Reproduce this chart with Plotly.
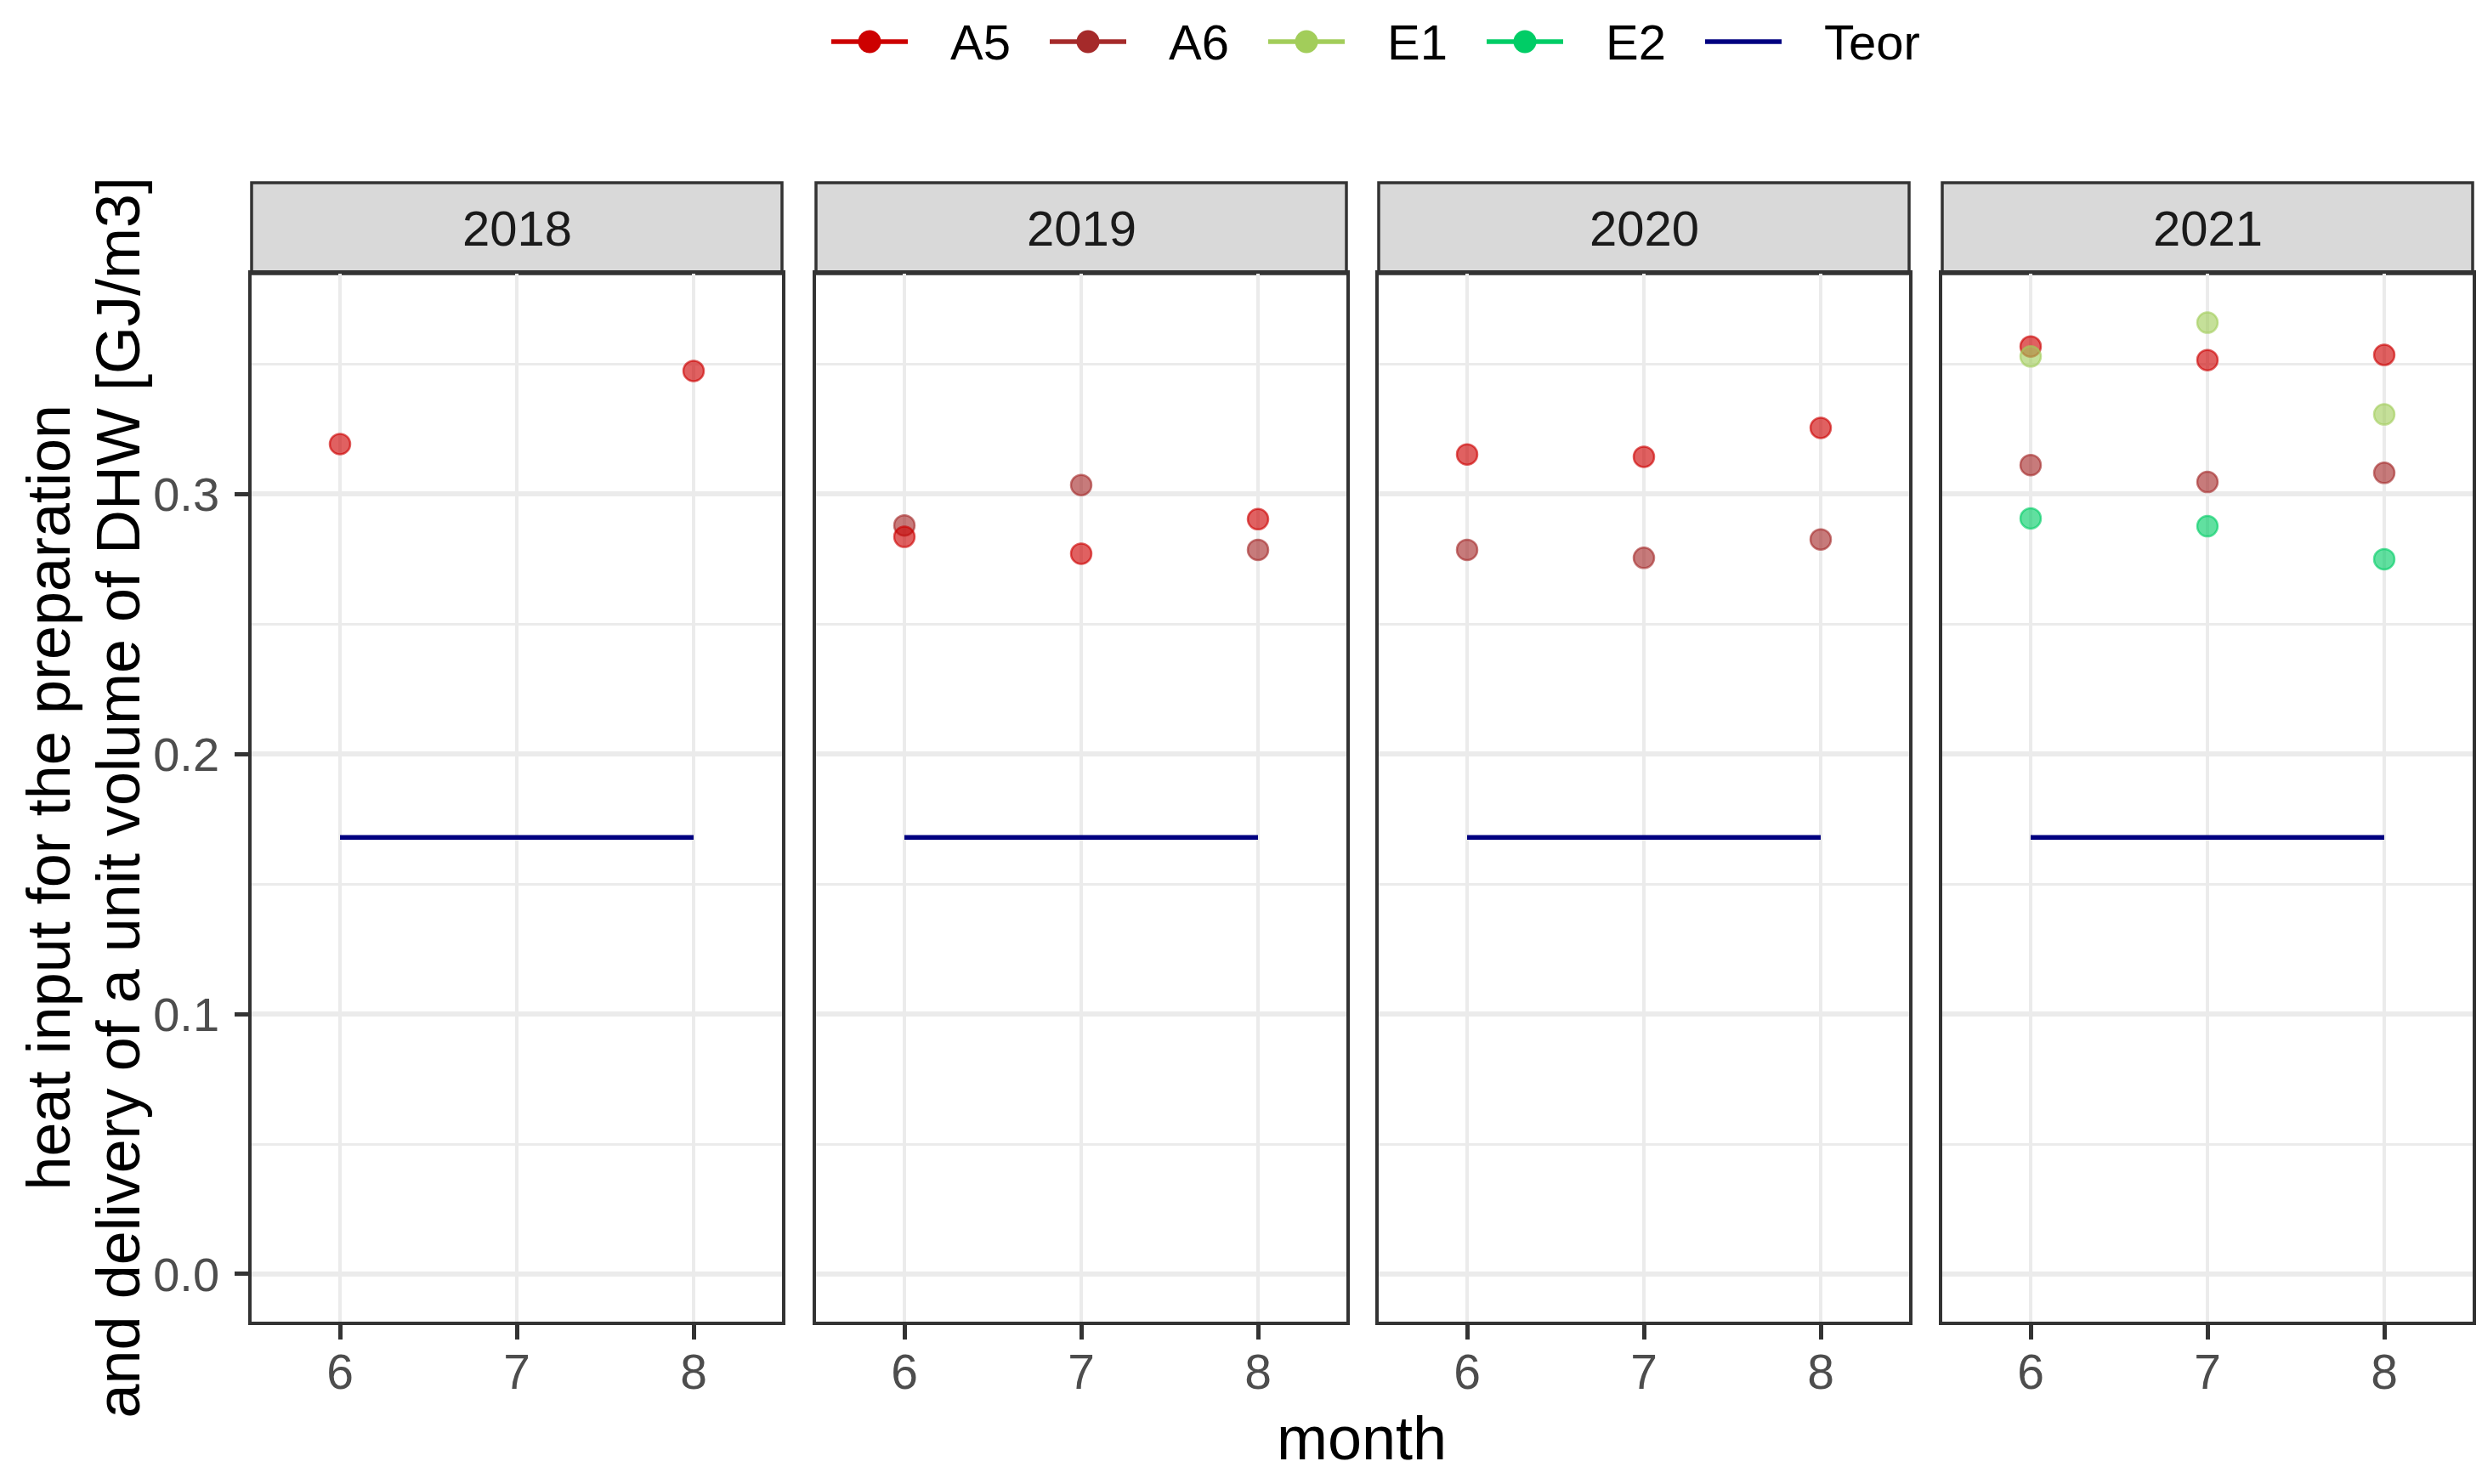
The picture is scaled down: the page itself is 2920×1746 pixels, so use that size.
import plotly.graph_objects as go

# ---------------- data ----------------
years = [2018, 2019, 2020, 2021]
months = [6, 7, 8]

a5_2018 = [0.3193, None, 0.3474]
a5_2019 = [0.2836, 0.2771, 0.2904]
a5_2020 = [0.3153, 0.3144, 0.3255]
a5_2021 = [0.3568, 0.3516, 0.3536]

a6_2018 = [None, None, None]
a6_2019 = [0.2880, 0.3035, 0.2786]
a6_2020 = [0.2786, 0.2755, 0.2826]
a6_2021 = [0.3112, 0.3047, 0.3082]

e1_2021 = [0.3530, 0.3660, 0.3307]
e2_2021 = [0.2907, 0.2877, 0.2750]

teor_value = 0.168

series_names = ["A5", "A6", "E1", "E2", "Teor"]
y_ticks = [0.0, 0.1, 0.2, 0.3]
y_tick_labels = ["0.0", "0.1", "0.2", "0.3"]
x_ticks = [6, 7, 8]
x_tick_labels = ["6", "7", "8"]
x_title = "month"
y_title_lines = ["heat input for the preparation",
                 "and delivery of a unit volume of DHW [GJ/m3]"]

# ---------------- styles ----------------
W, H = 2920, 1746
colors = {"A5": "#CD0000", "A6": "#A52A2A", "E1": "#A2CD5A",
          "E2": "#00CD66", "Teor": "#000080"}
alpha = 0.62
FONT = "Liberation Sans, Arial, sans-serif"


def rgba(hexc, a):
    h = hexc.lstrip("#")
    r, g, b = int(h[0:2], 16), int(h[2:4], 16), int(h[4:6], 16)
    return f"rgba({r},{g},{b},{a})"


def px(x):
    return x / W


def py(y):
    return 1 - y / H


panels_px = [(296, 920), (960, 1584), (1622, 2246), (2285, 2909)]
plot_top, plot_bot = 322, 1555
strip_top = 215

points = {
    "A6": [a6_2018, a6_2019, a6_2020, a6_2021],
    "A5": [a5_2018, a5_2019, a5_2020, a5_2021],
    "E1": [None, None, None, e1_2021],
    "E2": [None, None, None, e2_2021],
}

fig = go.Figure()

y_range = [-0.01833, 0.38483]

for i, yr in enumerate(years):
    ax = "" if i == 0 else str(i + 1)
    xa, ya = "x" + ax, "y" + ax
    # Teor line
    fig.add_trace(go.Scatter(
        x=[months[0], months[-1]], y=[teor_value, teor_value], mode="lines",
        line=dict(color=colors["Teor"], width=5.5), xaxis=xa, yaxis=ya,
        showlegend=False, hoverinfo="skip"))
    for name in ["A6", "A5", "E1", "E2"]:
        vals = points[name][i]
        if vals is None:
            continue
        xs = [m for m, v in zip(months, vals) if v is not None]
        ys = [v for v in vals if v is not None]
        if not xs:
            continue
        fig.add_trace(go.Scatter(
            x=xs, y=ys, mode="markers", name=name, xaxis=xa, yaxis=ya,
            marker=dict(size=24, color=rgba(colors[name], alpha),
                        line=dict(color=rgba(colors[name], alpha), width=2.5)),
            showlegend=False))

    x0, x1 = panels_px[i]
    common_line = dict(showline=True, linecolor="#333333", linewidth=3.5,
                       mirror=True, zeroline=False)
    fig.update_layout(**{
        "xaxis" + ax: dict(
            domain=[px(x0), px(x1)], range=[5.5, 8.5], anchor=ya,
            tickmode="array", tickvals=x_ticks, ticktext=x_tick_labels,
            ticks="outside", ticklen=17, tickwidth=4.5, tickcolor="#333333",
            ticklabelstandoff=-10,
            tickfont=dict(family=FONT, size=57, color="#4D4D4D"),
            showgrid=True, gridcolor="#EBEBEB", gridwidth=4,
            **common_line),
        "yaxis" + ax: dict(
            domain=[py(plot_bot), py(plot_top)], range=y_range,
            anchor=xa, tickmode="array", tickvals=y_ticks,
            ticktext=y_tick_labels,
            ticks="outside" if i == 0 else "", ticklen=16, tickwidth=4.5,
            tickcolor="#333333", showticklabels=(i == 0),
            ticklabelstandoff=7,
            tickfont=dict(family=FONT, size=56, color="#4D4D4D"),
            showgrid=True, gridcolor="#EBEBEB", gridwidth=6,
            minor=dict(tickvals=[0.05, 0.15, 0.25, 0.35], showgrid=True,
                       gridcolor="#EBEBEB", gridwidth=3, ticks=""),
            **common_line),
    })

    # strip
    fig.add_shape(type="rect", xref="paper", yref="paper",
                  x0=px(x0), x1=px(x1), y0=py(plot_top), y1=py(strip_top),
                  fillcolor="#D9D9D9", line=dict(color="#333333", width=3.5),
                  layer="below")
    fig.add_annotation(xref="paper", yref="paper", x=px((x0 + x1) / 2),
                       y=py((plot_top + strip_top) / 2), text=str(yr),
                       showarrow=False, xanchor="center", yanchor="middle",
                       font=dict(family=FONT, size=58, color="#1A1A1A"))

# axis titles
fig.add_annotation(xref="paper", yref="paper", x=px(1602), y=py(1692),
                   text=x_title, showarrow=False, xanchor="center",
                   yanchor="middle", font=dict(family=FONT, size=72, color="black"))
for xpos, line in zip([56, 138], y_title_lines):
    fig.add_annotation(xref="paper", yref="paper", x=px(xpos),
                       y=py((plot_top + plot_bot) / 2), text=line,
                       textangle=-90, showarrow=False, xanchor="center",
                       yanchor="middle",
                       font=dict(family=FONT, size=72, color="black"))

# legend (drawn manually, ggplot style)
leg_y = 49
for k, name in enumerate(series_names):
    lx0 = 978 + 257 * k
    lx1 = lx0 + 90
    fig.add_shape(type="line", xref="paper", yref="paper",
                  x0=px(lx0), x1=px(lx1), y0=py(leg_y), y1=py(leg_y),
                  line=dict(color=colors[name], width=5.5))
    if name != "Teor":
        cx = (lx0 + lx1) / 2
        r = 13.5
        fig.add_shape(type="circle", xref="paper", yref="paper",
                      x0=px(cx - r), x1=px(cx + r), y0=py(leg_y + r),
                      y1=py(leg_y - r), fillcolor=colors[name],
                      line=dict(color=colors[name], width=0))
    fig.add_annotation(xref="paper", yref="paper", x=px(lx1 + 48),
                       y=py(leg_y), text=name, showarrow=False,
                       xanchor="left", yanchor="middle",
                       font=dict(family=FONT, size=58, color="black"))

fig.update_layout(width=W, height=H, margin=dict(l=0, r=0, t=0, b=0),
                  paper_bgcolor="white", plot_bgcolor="white",
                  showlegend=False)

fig.write_html("out.html", config={"displayModeBar": False},
               post_script="document.body.style.margin='0';"
                           "document.body.style.overflow='hidden';")
